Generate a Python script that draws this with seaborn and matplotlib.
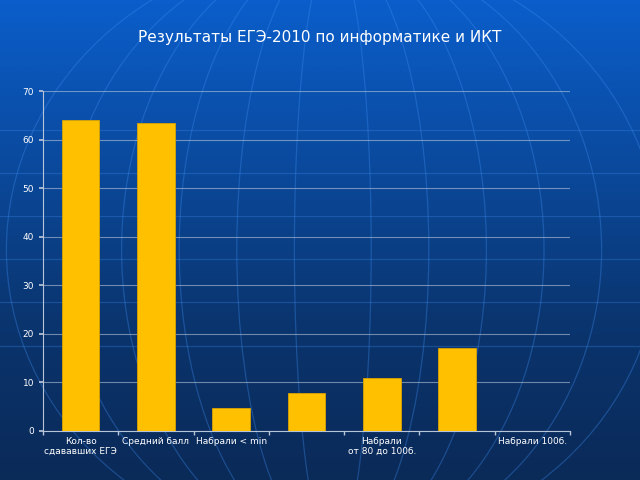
import numpy as np
import pandas as pd
import matplotlib
matplotlib.use("Agg")
import matplotlib.pyplot as plt
from matplotlib.patches import Ellipse
import seaborn as sns

# data
categories = ["Кол-во\nсдававших ЕГЭ", "Средний балл", "Набрали < min", " ",
              "Набрали\nот 80 до 100б.", "  ", "Набрали 100б."]
values = [64, 63.5, 4.8, 7.8, 10.9, 17, 0]
y_ticks = [0, 10, 20, 30, 40, 50, 60, 70]
title = "Результаты ЕГЭ-2010 по информатике и ИКТ"

df = pd.DataFrame({"cat": categories, "val": values})

sns.set_theme(style="white")
plt.rcParams["font.family"] = ["DejaVu Sans"]

fig = plt.figure(figsize=(6.4, 4.8), dpi=100)

# background: blue gradient with faint globe lines
bg = fig.add_axes([0, 0, 1, 1], zorder=-10)
grad = np.linspace(0, 1, 256).reshape(-1, 1)
cmap = matplotlib.colors.LinearSegmentedColormap.from_list(
    "bg", ["#0a5ecb", "#0a4a9e", "#0b356f", "#0a2a58"])
bg.imshow(grad, aspect="auto", cmap=cmap, extent=[0, 1, 0, 1], origin="upper")
for w in [0.12, 0.30, 0.48, 0.66, 0.84, 1.02]:
    bg.add_patch(Ellipse((0.52, 0.48), w, 1.25, fill=False,
                         edgecolor="#3d8cf0", lw=0.9, alpha=0.35))
for yy in [0.28, 0.37, 0.46, 0.55, 0.64, 0.73]:
    bg.plot([0.0, 1.0], [yy, yy], color="#3d8cf0", lw=0.9, alpha=0.3)
bg.set_xlim(0, 1)
bg.set_ylim(0, 1)
bg.axis("off")

ax = fig.add_axes([0.0672, 0.1021, 0.8234, 0.7083])
ax.set_facecolor("none")
sns.barplot(data=df, x="cat", y="val", color="#FFC000", width=0.5,
            edgecolor="#d9a300", linewidth=0.6, saturation=1, ax=ax, zorder=3)

ax.set_ylim(0, 70)
ax.set_xlim(-0.5, len(categories) - 0.5)
ax.set_yticks(y_ticks)
ax.yaxis.grid(True, color="#b8c4d8", lw=0.8, alpha=0.6, zorder=0)
ax.set_xlabel("")
ax.set_ylabel("")
ax.tick_params(axis="y", colors="white", labelsize=6.5, length=3,
               color="#b8c4d8", direction="out", left=True)
ax.tick_params(axis="x", colors="white", labelsize=6.5, length=0, pad=4)
ax.set_xticks(range(len(categories)))
ax.set_xticklabels(categories, color="white", fontsize=6.5, linespacing=1.2)
ax.set_xticks(np.arange(-0.5, len(categories), 1), minor=True)
ax.tick_params(axis="x", which="minor", length=3, color="#b8c4d8",
               bottom=True, direction="out")
for side in ["top", "right"]:
    ax.spines[side].set_visible(False)
for side in ["left", "bottom"]:
    ax.spines[side].set_color("#b8c4d8")
    ax.spines[side].set_linewidth(0.8)

fig.text(0.5, 0.922, title, ha="center", va="center", color="white",
         fontsize=11)

fig.savefig("out.png", dpi=100)
